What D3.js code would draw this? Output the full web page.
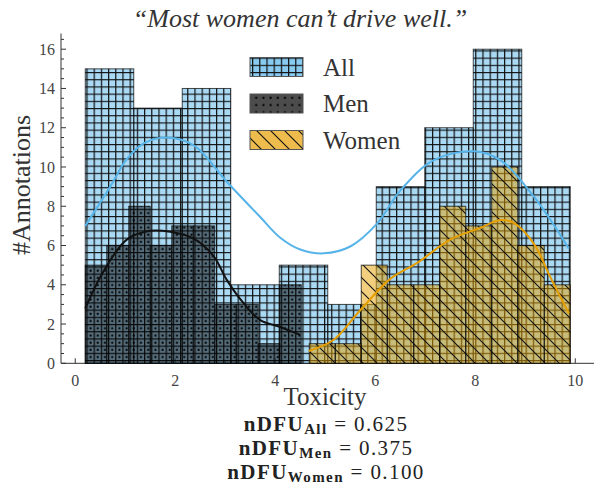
<!DOCTYPE html>
<html><head><meta charset="utf-8">
<script src="https://cdn.jsdelivr.net/npm/d3@7"></script>
<style>body{margin:0;background:#fff} svg{display:block}</style>
</head><body><svg id="c" width="594" height="491"></svg>
<script>
// ---- data ----
const allEdges = [0.2, 1.17, 2.14, 3.11, 4.08, 5.05, 6.02, 6.99, 7.96, 8.93, 9.9];
const allCounts = [15, 13, 14, 4, 5, 3, 9, 12, 16, 9];
const menEdges = [0.2, 0.63, 1.07, 1.5, 1.93, 2.36, 2.79, 3.22, 3.66, 4.09, 4.52];
const menCounts = [5, 6, 8, 6, 7, 7, 3, 3, 1, 4];
const womenEdges = [4.68, 5.2, 5.72, 6.24, 6.77, 7.29, 7.81, 8.33, 8.85, 9.38, 9.9];
const womenCounts = [1, 1, 5, 4, 4, 8, 7, 10, 6, 4];
const allKde = [[0.2,7.0],[0.7,9.0],[1.03,10.4],[1.37,11.2],[1.8,11.5],[2.37,11.1],[3.03,9.25],[3.7,7.45],[4.1,6.4],[4.5,5.8],[4.97,5.6],[5.5,5.95],[6.03,7.1],[6.5,8.8],[7.17,10.35],[7.97,10.8],[8.5,10.35],[9.17,8.5],[9.87,5.85]];
const menKde = [[0.2,2.8],[0.57,4.7],[1.03,6.3],[1.5,6.75],[1.9,6.7],[2.37,6.35],[2.77,5.45],[3.03,4.25],[3.37,3.05],[3.7,2.2],[4.1,1.85],[4.5,1.45]];
const womenKde = [[4.67,0.63],[5.17,1.2],[5.7,2.7],[6.3,4.3],[6.83,5.1],[7.5,6.3],[8.1,6.9],[8.5,7.3],[8.77,7.15],[9.17,6.1],[9.5,4.4],[9.87,2.55]];
const yTicks = [0, 2, 4, 6, 8, 10, 12, 14, 16];
const xTicks = [0, 2, 4, 6, 8, 10];
const seriesNames = ["All", "Men", "Women"];
const nDFU = [["All", "0.625"], ["Men", "0.375"], ["Women", "0.100"]];
const titleText = "\u201CMost women can\u2019t drive well.\u201D";

// ---- setup ----
const svg = d3.select("#c");
const FONT = "'Liberation Serif','DejaVu Serif',serif";
const x = d3.scaleLinear().domain([-0.285, 10.385]).range([61, 594.5]);
const y = d3.scaleLinear().domain([0, 16.8]).range([363.3, 33.5]);

const defs = svg.append("defs");
const pg = defs.append("pattern").attr("id", "grid").attr("patternUnits", "userSpaceOnUse")
  .attr("width", 7.2).attr("height", 7.2);
pg.append("path").attr("d", "M0,0.6H7.2M0.6,0V7.2").attr("stroke", "#111").attr("stroke-width", 1.2).attr("fill", "none");
const pd = defs.append("pattern").attr("id", "dots").attr("patternUnits", "userSpaceOnUse")
  .attr("width", 7.2).attr("height", 7.2);
pd.append("circle").attr("cx", 4.2).attr("cy", 4.2).attr("r", 1.1).attr("fill", "#000");
const pdi = defs.append("pattern").attr("id", "diag").attr("patternUnits", "userSpaceOnUse")
  .attr("width", 14).attr("height", 14);
pdi.append("path").attr("d", "M-1,-1L15,15M-1,13L1,15M13,-1L15,1").attr("stroke", "#111").attr("stroke-width", 1.1).attr("fill", "none");

const styles = {
  All:   {color: "#56B4E9", pat: "grid"},
  Men:   {color: "#000000", pat: "dots"},
  Women: {color: "#E69F00", pat: "diag"}
};

// ---- axes ----
const ax = svg.append("g");
ax.append("line").attr("x1", x.range()[0]).attr("x2", x.range()[0]).attr("y1", y(16.8)).attr("y2", y(0))
  .attr("stroke", "#333").attr("stroke-width", 1);
ax.append("line").attr("x1", x.range()[0]).attr("x2", x.range()[1]).attr("y1", y(0)).attr("y2", y(0))
  .attr("stroke", "#333").attr("stroke-width", 1);
const yMinor = d3.range(0, 16.81, 0.5);
ax.selectAll(".ymin").data(yMinor).join("line")
  .attr("x1", x.range()[0]).attr("x2", d => x.range()[0] + (d % 2 === 0 ? 5 : 3))
  .attr("y1", d => y(d)).attr("y2", d => y(d)).attr("stroke", "#333").attr("stroke-width", 1);
ax.selectAll(".ylab").data(yTicks).join("text")
  .attr("x", 55).attr("y", d => y(d)).attr("dy", "0.35em").attr("text-anchor", "end")
  .attr("font-family", FONT).attr("font-size", 16).attr("fill", "#444").text(d => d);
const xMinor = d3.range(0, 10.01, 0.5);
ax.selectAll(".xmin").data(xMinor).join("line")
  .attr("x1", d => x(d)).attr("x2", d => x(d))
  .attr("y1", y(0)).attr("y2", d => y(0) - (d % 2 === 0 ? 5 : 3)).attr("stroke", "#333").attr("stroke-width", 1);
ax.selectAll(".xlab").data(xTicks).join("text")
  .attr("x", d => x(d)).attr("y", 386).attr("text-anchor", "middle")
  .attr("font-family", FONT).attr("font-size", 16).attr("fill", "#444").text(d => d);

// ---- bars ----
function bars(name, edges, counts) {
  const st = styles[name];
  const data = counts.map((c, i) => ({x0: edges[i], x1: edges[i + 1], c}));
  const g = svg.append("g");
  const geom = sel => sel.attr("x", d => x(d.x0)).attr("width", d => x(d.x1) - x(d.x0))
    .attr("y", d => y(d.c)).attr("height", d => y(0) - y(d.c));
  g.selectAll(".f").data(data).join("rect").call(geom).attr("fill", st.color).attr("fill-opacity", 0.5);
  g.selectAll(".h").data(data).join("rect").call(geom).attr("fill", `url(#${st.pat})`);
  g.selectAll(".e").data(data).join("rect").call(geom).attr("fill", "none")
    .attr("stroke", "#000").attr("stroke-opacity", 0.7).attr("stroke-width", 1);
}
bars("All", allEdges, allCounts);
bars("Men", menEdges, menCounts);
bars("Women", womenEdges, womenCounts);

// ---- kde lines ----
const line = d3.line().x(d => x(d[0])).y(d => y(d[1])).curve(d3.curveCatmullRom.alpha(0.5));
[["All", allKde], ["Men", menKde], ["Women", womenKde]].forEach(([n, pts]) => {
  svg.append("path").attr("d", line(pts)).attr("fill", "none")
    .attr("stroke", n === "Men" ? "#111" : styles[n].color).attr("stroke-width", 2);
});

// ---- legend ----
const lg = svg.append("g");
seriesNames.forEach((n, i) => {
  const st = styles[n];
  const yy = 57.5 + i * 36.5;
  lg.append("rect").attr("x", 250).attr("y", yy).attr("width", 53).attr("height", 19)
    .attr("fill", st.color).attr("fill-opacity", 0.7);
  lg.append("rect").attr("x", 250).attr("y", yy).attr("width", 53).attr("height", 19)
    .attr("fill", `url(#${st.pat})`);
  lg.append("rect").attr("x", 250).attr("y", yy).attr("width", 53).attr("height", 19)
    .attr("fill", "none").attr("stroke", "#555").attr("stroke-width", 1);
  lg.append("text").attr("x", 323).attr("y", yy + 18).attr("font-family", FONT)
    .attr("font-size", 25).attr("fill", "#333").text(n);
});

// ---- texts ----
svg.append("text").attr("x", 300).attr("y", 27).attr("text-anchor", "middle")
  .attr("font-family", FONT).attr("font-style", "italic").attr("font-size", 26).attr("fill", "#333")
  .text(titleText);
svg.append("text").attr("transform", "translate(30,185) rotate(-90)").attr("text-anchor", "middle")
  .attr("font-family", FONT).attr("font-size", 26).attr("fill", "#333").text("#Annotations");
svg.append("text").attr("x", 325).attr("y", 405).attr("text-anchor", "middle")
  .attr("font-family", FONT).attr("font-size", 25).attr("fill", "#333").text("Toxicity");
nDFU.forEach(([n, v], i) => {
  const t = svg.append("text").attr("x", 326).attr("y", 431 + i * 24).attr("text-anchor", "middle")
    .attr("font-family", FONT).attr("font-size", 21).attr("letter-spacing", 1.4).attr("fill", "#222");
  t.append("tspan").attr("font-weight", "bold").text("nDFU");
  t.append("tspan").attr("font-weight", "bold").attr("font-size", 15).attr("dy", 3).text(n);
  t.append("tspan").attr("dy", -3).text(" = " + v);
});
</script></body></html>
